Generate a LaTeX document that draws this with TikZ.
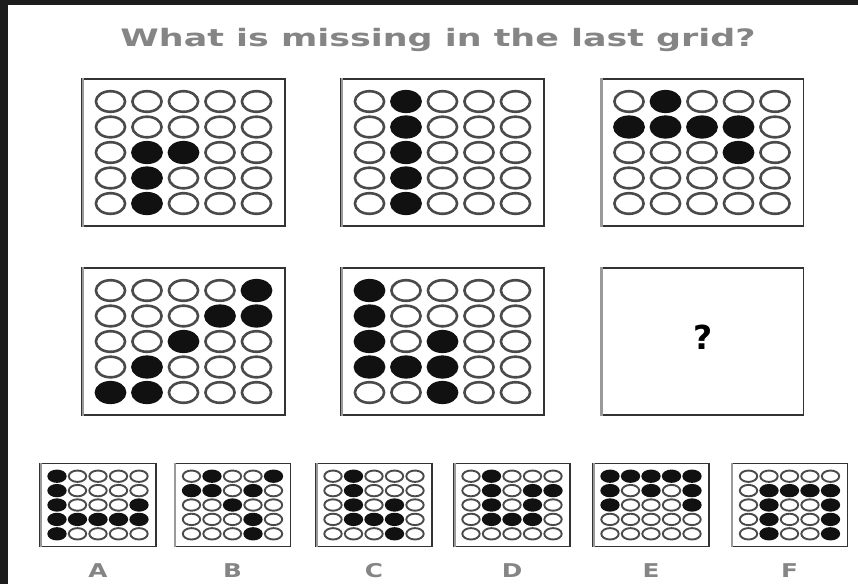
\documentclass[tikz,border=0pt]{standalone}
\usepackage{fontspec}
\setmainfont{DejaVu Sans}
\usepackage{graphicx}
\definecolor{titlegray}{HTML}{858585}
\definecolor{ringgray}{HTML}{4A4A4A}
\definecolor{framegray}{HTML}{333333}
\definecolor{edgegray}{HTML}{9A9A9A}
\definecolor{bgdark}{HTML}{1C1C1C}
\definecolor{dotblack}{HTML}{111111}
\tikzset{
  bigbox/.style={draw=framegray, line width=1.3pt, fill=white, minimum width=203pt, minimum height=147pt, inner sep=0pt},
  smallbox/.style={draw=framegray, line width=1.1pt, fill=white, minimum width=116pt, minimum height=83.5pt, inner sep=0pt},
  leftedge/.style={draw=edgegray, line width=2.6pt},
  bopen/.style={draw=ringgray, line width=2.6pt, fill=white, x radius=14.6pt, y radius=10.3pt},
  bfill/.style={draw=dotblack, line width=2.6pt, fill=dotblack, x radius=14.6pt, y radius=10.3pt},
  sopen/.style={draw=ringgray, line width=1.9pt, fill=white, x radius=8.7pt, y radius=5.7pt},
  sfill/.style={draw=dotblack, line width=1.9pt, fill=dotblack, x radius=8.7pt, y radius=5.7pt},
  letter/.style={text=titlegray, font=\bfseries\fontsize{19}{20}\selectfont, anchor=base, inner sep=0pt},
}
% #1 centre x, #2 centre y, #3 dx, #4 dy, #5 style prefix (b or s), #6 rows
\newcommand{\dotgrid}[6]{%
  \foreach \rowvals [count=\r from -2] in {#6} {
    \foreach \v [count=\c from -2] in \rowvals {
      \ifnum\v=1
        \path[#5fill] ({#1+#3*\c},{#2+#4*\r}) ellipse;
      \else
        \path[#5open] ({#1+#3*\c},{#2+#4*\r}) ellipse;
      \fi
    }
  }%
}
\newcommand{\bigpanel}[4]{% name, cx, cy, rows
  \node[bigbox] (#1) at (#2,#3) {};
  \draw[leftedge] ([xshift=1.6pt]#1.north west) -- ([xshift=1.6pt]#1.south west);
  \dotgrid{#2}{#3}{36.5}{25.5}{b}{#4}
}
\newcommand{\smallpanel}[5]{% name, cx, cy, rows, label
  \node[smallbox] (#1) at (#2,#3) {};
  \draw[leftedge, line width=2pt] ([xshift=1.2pt]#1.north west) -- ([xshift=1.2pt]#1.south west);
  \dotgrid{#2}{#3}{20.5}{14.4}{s}{#4}
  \node[letter] (#1lab) at (#2,577) {\scalebox{1.3}[1]{#5}};
}
\begin{document}
\begin{tikzpicture}[x=1pt, y=-1pt]
\useasboundingbox (0,0) rectangle (858,584);
\fill[bgdark] (0,0) rectangle (858,584);
\fill[white] (8,5) rectangle (858,584);

\node[text=titlegray, anchor=base, inner sep=0pt] (title) at (438,46)
  {\resizebox{635pt}{\height}{\bfseries\fontsize{24}{26}\selectfont What is missing in the last grid?}};

\bigpanel{g1}{183.5}{152.5}{{0,0,0,0,0},{0,0,0,0,0},{0,1,1,0,0},{0,1,0,0,0},{0,1,0,0,0}}
\bigpanel{g2}{442.5}{152.5}{{0,1,0,0,0},{0,1,0,0,0},{0,1,0,0,0},{0,1,0,0,0},{0,1,0,0,0}}
\bigpanel{g3}{702}{152.5}{{0,1,0,0,0},{1,1,1,1,0},{0,0,0,1,0},{0,0,0,0,0},{0,0,0,0,0}}
\bigpanel{g4}{183.5}{341.5}{{0,0,0,0,1},{0,0,0,1,1},{0,0,1,0,0},{0,1,0,0,0},{1,1,0,0,0}}
\bigpanel{g5}{442.5}{341.5}{{1,0,0,0,0},{1,0,0,0,0},{1,0,1,0,0},{1,1,1,0,0},{0,0,1,0,0}}

\node[bigbox] (g6) at (702,341.5) {};
\draw[leftedge] ([xshift=1.6pt]g6.north west) -- ([xshift=1.6pt]g6.south west);
\node[font=\bfseries\fontsize{33}{35}\selectfont, inner sep=0pt] (qmark) at (703,337) {?};

\smallpanel{pA}{98}{505}{{1,0,0,0,0},{1,0,0,0,0},{1,0,0,0,1},{1,1,1,1,1},{1,0,0,0,0}}{A}
\smallpanel{pB}{232.5}{505}{{0,1,0,0,1},{1,1,0,1,0},{0,0,1,0,0},{0,0,0,1,0},{0,0,0,1,0}}{B}
\smallpanel{pC}{374}{505}{{0,1,0,0,0},{0,1,0,0,0},{0,1,0,1,0},{0,1,1,1,0},{0,0,0,1,0}}{C}
\smallpanel{pD}{512}{505}{{0,1,0,0,0},{0,1,0,1,1},{0,1,0,1,0},{0,1,1,1,0},{0,0,0,0,0}}{D}
\smallpanel{pE}{651}{505}{{1,1,1,1,1},{1,0,1,0,1},{1,0,0,0,1},{0,0,0,0,0},{0,0,0,0,0}}{E}
\smallpanel{pF}{789.5}{505}{{0,0,0,0,0},{0,1,1,1,1},{0,1,0,0,1},{0,1,0,0,1},{0,1,0,0,1}}{F}
\end{tikzpicture}
\end{document}
